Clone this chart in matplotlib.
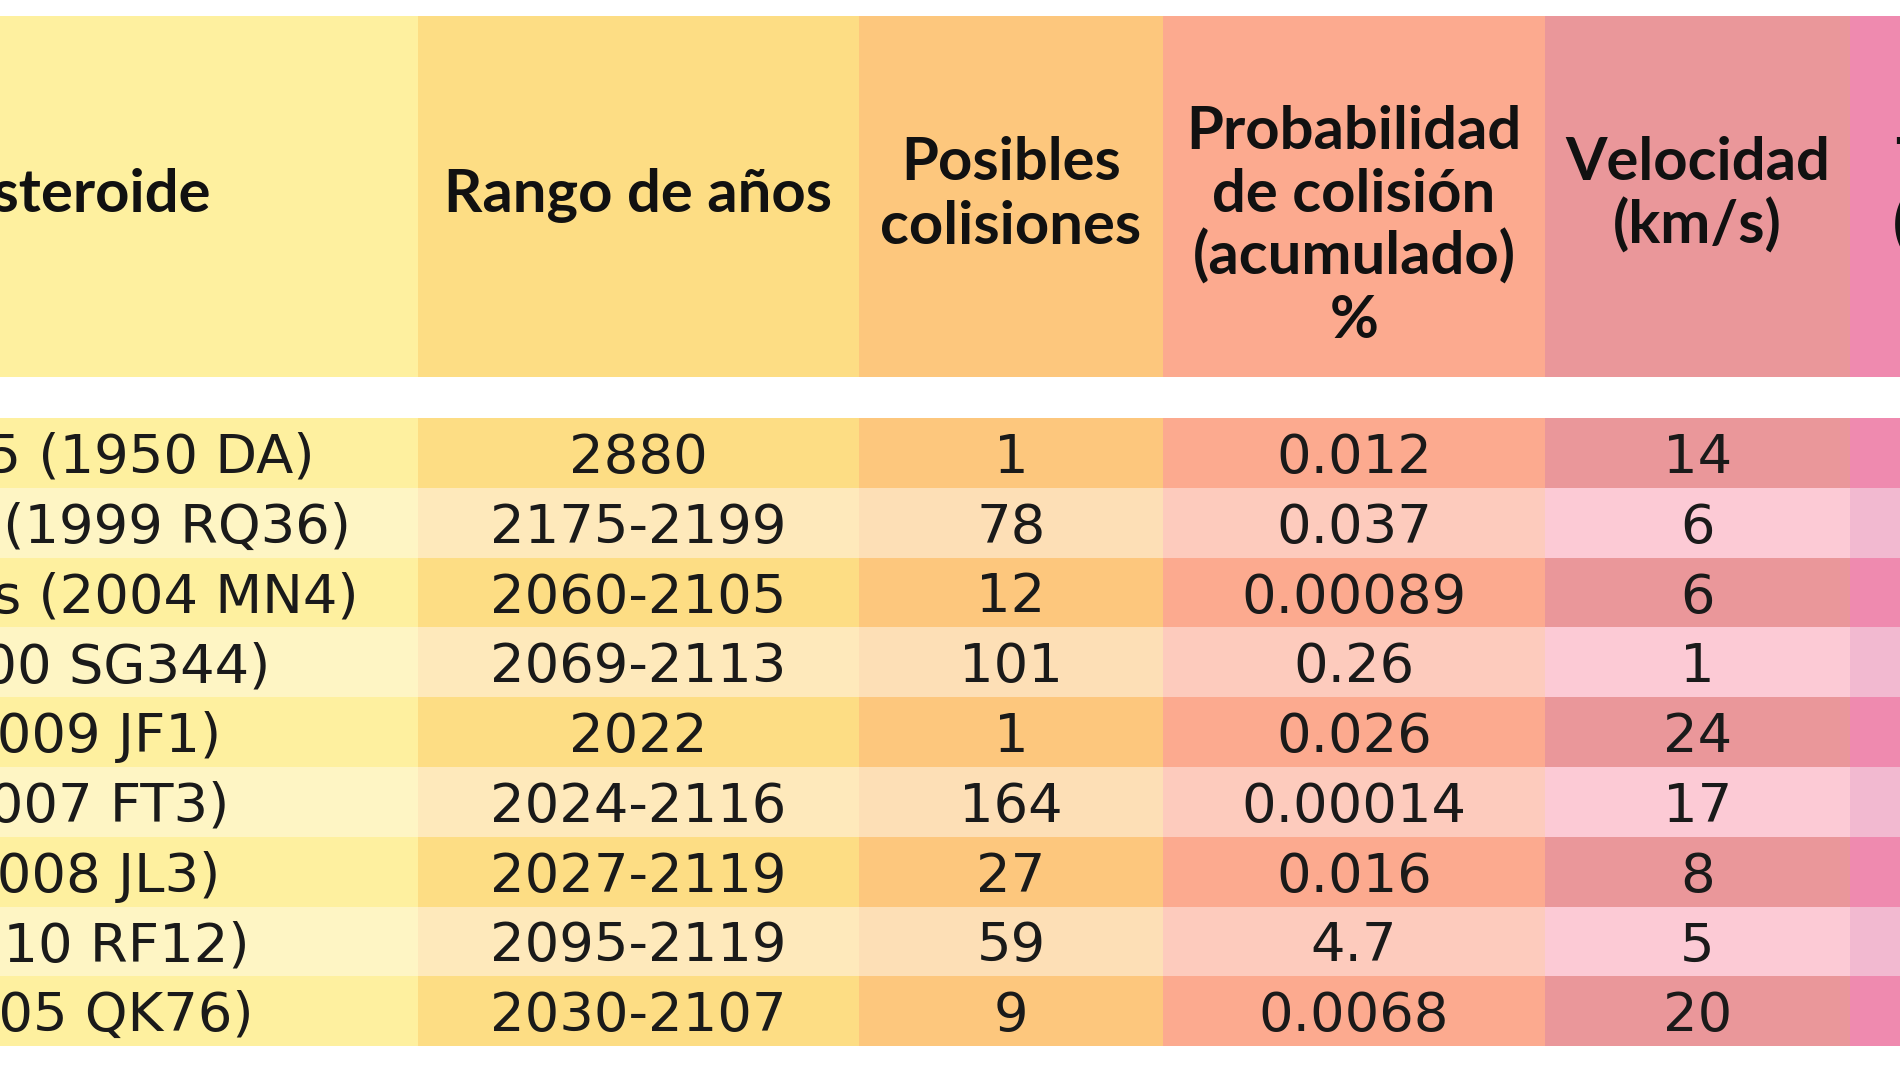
import matplotlib
matplotlib.use('Agg')
import matplotlib.pyplot as plt
from matplotlib.patches import Rectangle

# Table content (visible part of the original table)
headers = ['Asteroide', 'Rango de años', 'Posibles\ncolisiones',
           'Probabilidad\nde colisión\n(acumulado)\n%', 'Velocidad\n(km/s)',
           'Tamaño\n(metros)']
asteroides = ['29075 (1950 DA)', 'Bennu (1999 RQ36)', 'Apophis (2004 MN4)',
              '(2000 SG344)', '(2009 JF1)', '(2007 FT3)', '(2008 JL3)',
              '(2010 RF12)', '(2005 QK76)']
rango = ['2880', '2175-2199', '2060-2105', '2069-2113', '2022',
         '2024-2116', '2027-2119', '2095-2119', '2030-2107']
colisiones = ['1', '78', '12', '101', '1', '164', '27', '59', '9']
probabilidad = ['0.012', '0.037', '0.00089', '0.26', '0.026', '0.00014',
                '0.016', '4.7', '0.0068']
velocidad = ['14', '6', '6', '1', '24', '17', '8', '5', '20']

columns = [asteroides, rango, colisiones, probabilidad, velocidad, None]

# column colours: header / odd rows, and lighter even rows
dark = ['#fef09f', '#fddd84', '#fdc77d', '#fcaa8f', '#ea979a', '#ef8aaf']
light = ['#fef5c4', '#fee9bb', '#fddfb6', '#fdcbbd', '#fccad5', '#f2b9d0']

# layout in pixels (figure is 1900 x 1069, table is cropped on both sides)
W, H = 1900, 1069
col_edges = [-256, 418, 859, 1163, 1545, 1850, 2155]
head_top, head_bot = 16, 377
rows_top, row_h = 418, 69.8
line_h = 63

fig = plt.figure(figsize=(19, 10.69), dpi=100)
ax = fig.add_axes([0, 0, 1, 1])
ax.set_xlim(0, W)
ax.set_ylim(H, 0)
ax.axis('off')

for c in range(len(headers)):
    x0, x1 = col_edges[c], col_edges[c + 1]
    xc = (x0 + x1) / 2
    ax.add_patch(Rectangle((x0, head_top), x1 - x0, head_bot - head_top,
                           facecolor=dark[c], edgecolor='none'))
    lines = headers[c].split('\n')
    k = min(len(lines), 3)
    for i, ln in enumerate(lines):
        yc = 191 + (i - (k - 1) / 2) * line_h
        ax.text(xc, yc + 21, ln, ha='center', va='baseline',
                fontfamily='Lato', fontweight='bold', fontsize=43,
                color='#111111')
    for r in range(len(rango)):
        y0 = rows_top + r * row_h
        ax.add_patch(Rectangle((x0, y0), x1 - x0, row_h,
                               facecolor=dark[c] if r % 2 == 0 else light[c],
                               edgecolor='none'))
        if columns[c] is not None:
            ax.text(xc, y0 + row_h / 2 + 20, columns[c][r], ha='center',
                    va='baseline', fontfamily='DejaVu Sans', fontsize=39.2,
                    color='#1a1a1a')

fig.savefig('out.png', dpi=100, facecolor='white')
